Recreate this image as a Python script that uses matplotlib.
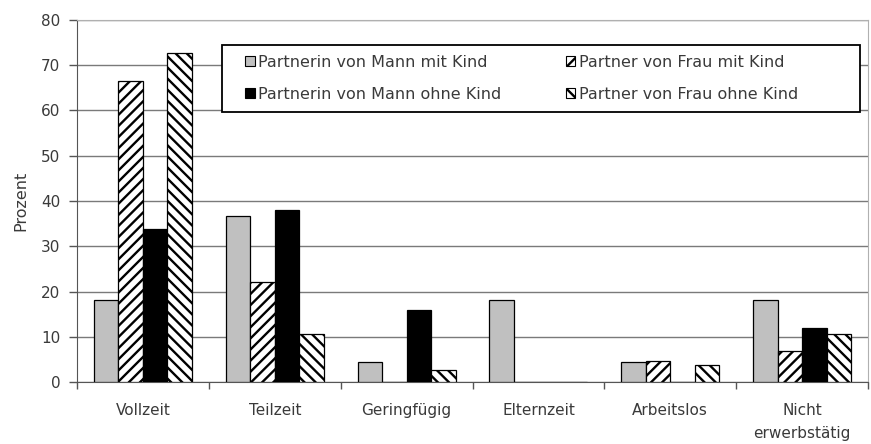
import numpy as np
import matplotlib
matplotlib.use("Agg")
import matplotlib.pyplot as plt
from matplotlib.patches import Patch, Rectangle

plt.rcParams['font.family'] = ['DejaVu Sans']
plt.rcParams['hatch.linewidth'] = 1.7

categories = ["Vollzeit", "Teilzeit", "Geringfügig", "Elternzeit", "Arbeitslos", "Nicht\nerwerbstätig"]
series_names = [
    "Partnerin von Mann mit Kind",
    "Partner von Frau mit Kind",
    "Partnerin von Mann ohne Kind",
    "Partner von Frau ohne Kind",
]
mann_mit_kind = [18.1, 36.6, 4.5, 18.1, 4.5, 18.1]
frau_mit_kind = [66.6, 22.2, 0.0, 0.0, 4.6, 6.9]
mann_ohne_kind = [33.8, 38.0, 15.9, 0.0, 0.0, 11.9]
frau_ohne_kind = [72.8, 10.6, 2.6, 0.0, 3.7, 10.6]
y_ticks = [0, 10, 20, 30, 40, 50, 60, 70, 80]

values = [mann_mit_kind, frau_mit_kind, mann_ohne_kind, frau_ohne_kind]
fills = ["#c0c0c0", "white", "black", "white"]
hatches = [None, "///", None, "\\\\\\"]
text_color = "#3a3a3a"

fig = plt.figure(figsize=(8.71, 4.44), dpi=100)
ax = fig.add_axes([0.0884, 0.1396, 0.9082, 0.8154])

x = np.arange(len(categories))
w = 0.186
for i, (vals, fc, h) in enumerate(zip(values, fills, hatches)):
    ax.bar(x + (i - 1.5) * w, vals, w, color=fc, edgecolor="black",
           linewidth=0.9, hatch=h, zorder=3)

ax.set_xlim(-0.5, len(categories) - 0.5)
ax.set_ylim(0, 80)
ax.set_yticks(y_ticks)
ax.tick_params(axis="y", labelsize=11, length=6, width=1, colors="#555555",
               labelcolor=text_color, pad=6)
ax.set_xticks(x)
ax.set_xticklabels(categories, fontsize=11, color=text_color, linespacing=1.7)
ax.set_xticks(np.arange(len(categories) + 1) - 0.5, minor=True)
ax.tick_params(axis="x", which="major", length=0, pad=15)
ax.tick_params(axis="x", which="minor", length=5, width=1, colors="#555555")
ax.grid(axis="y", color="#7a7a7a", linewidth=1, zorder=0)
ax.set_axisbelow(True)

ax.spines["left"].set_color("#555555")
ax.spines["bottom"].set_color("#555555")
ax.spines["top"].set_color("#b0b0b0")
ax.spines["right"].set_color("#b0b0b0")

ax.set_ylabel("Prozent", fontsize=11.5, color=text_color, labelpad=9)

# legend box with two columns of entries
ax.add_patch(Rectangle((0.183, 0.746), 0.807, 0.185, transform=ax.transAxes,
                       facecolor="white", edgecolor="black", linewidth=1.3,
                       zorder=4, clip_on=False))

handles = [Patch(facecolor=fc, edgecolor="black", hatch=h, linewidth=0.8)
           for fc, h in zip(fills, hatches)]
leg_kw = dict(loc="upper left", fontsize=11.5, frameon=False,
              handlelength=0.6, handleheight=0.6, handletextpad=0.2,
              labelspacing=1.05, borderpad=0, borderaxespad=0)
col_x = [0.213, 0.618]
legends = []
for c, idx in enumerate([(0, 2), (1, 3)]):
    leg = ax.legend([handles[k] for k in idx], [series_names[k] for k in idx],
                    bbox_to_anchor=(col_x[c], 0.904), **leg_kw)
    leg.set_zorder(5)
    for t in leg.get_texts():
        t.set_color(text_color)
    legends.append(leg)
ax.add_artist(legends[0])

fig.savefig("out.png", dpi=100)
